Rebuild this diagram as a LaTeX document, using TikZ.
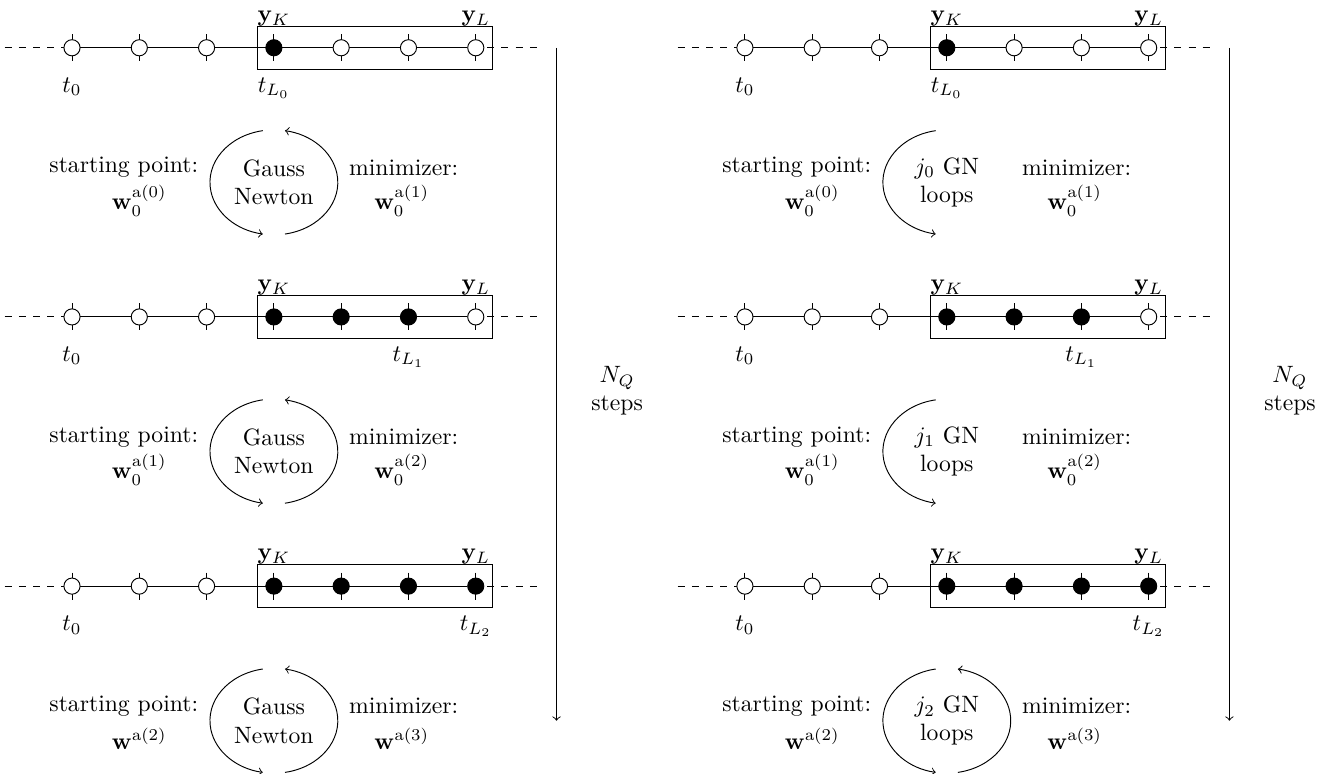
\documentclass[tikz,border=0pt]{standalone}
\usepackage{amsmath}
\usetikzlibrary{calc}

\begin{document}
\begin{tikzpicture}[
  pt/.style={draw, circle, inner sep=0pt, minimum size=2.4mm},
  win/.style={draw, minimum width=35mm, minimum height=6.4mm, inner sep=0pt},
  lbl/.style={anchor=base},
  gn/.style={align=center}]
  \useasboundingbox (-1.07,0.71) rectangle (18.65,-10.79);

  \foreach \p/\ox/\full in {L/0/1, R/10/0}{
    \foreach \r/\last/\wa/\wb in {0/3/{\mathbf{w}_0^{\mathrm{a}(0)}}/{\mathbf{w}_0^{\mathrm{a}(1)}},
                                  1/5/{\mathbf{w}_0^{\mathrm{a}(1)}}/{\mathbf{w}_0^{\mathrm{a}(2)}},
                                  2/6/{\mathbf{w}^{\mathrm{a}(2)}}/{\mathbf{w}^{\mathrm{a}(3)}}}{
      \pgfmathsetmacro\y{-4*\r}
      \pgfmathsetmacro\cy{\y-2.0}
      % time axis with the window
      \coordinate (\p-\r-a) at (\ox-1,\y);
      \coordinate (\p-\r-b) at (\ox+7,\y);
      \draw[dashed] (\p-\r-a) -- (\p-\r-b);
      \node[win] (\p-\r-win) at (\ox+4.5,\y) {};
      \foreach \k in {0,...,6}{
        \pgfmathtruncatemacro\sh{100*(\k>2)*(\k<=\last)}
        \draw (\ox+\k,\y+0.2) -- (\ox+\k,\y-0.2);
        \node[pt, fill=black!\sh] (\p-\r-\k) at (\ox+\k,\y) {};
      }
      \foreach \k [evaluate=\k as \n using int(\k+1)] in {0,...,5}
        \draw (\p-\r-\k) -- (\p-\r-\n);
      \node[lbl] (\p-\r-yk) at (\ox+3,\y+0.39) {$\mathbf{y}_K$};
      \node[lbl] (\p-\r-yl) at (\ox+6,\y+0.39) {$\mathbf{y}_L$};
      \node[lbl] (\p-\r-t0) at (\ox,\y-0.66) {$t_0$};
      \node[lbl] (\p-\r-tl) at (\ox+\last,\y-0.66) {$t_{L_\r}$};

      % inner loop
      \node[gn] (\p-\r-gn) at (\ox+3,\cy) {\ifnum\full=1 Gauss\\Newton\else $j_\r$ GN\\loops\fi};
      \draw[->] ($(\p-\r-gn)+(100:0.95 and 0.78)$) arc[start angle=100, end angle=260, x radius=0.95, y radius=0.78];
      \pgfmathtruncatemacro\both{\full+(\r==2)}
      \ifnum\both>0
        \draw[->] ($(\p-\r-gn)+(-80:0.95 and 0.78)$) arc[start angle=-80, end angle=80, x radius=0.95, y radius=0.78];
      \fi
      \node (\p-\r-sp) at (\ox+0.77,\cy+0.22) {starting point:};
      \node (\p-\r-w0) at (\ox+1,\cy-0.27) {$\wa$};
      \node (\p-\r-mn) at (\ox+4.93,\cy+0.22) {minimizer:};
      \node (\p-\r-w1) at (\ox+4.9,\cy-0.27) {$\wb$};
    }
    \coordinate (\p-top) at (\ox+7.2,0);
    \coordinate (\p-bot) at (\ox+7.2,-10);
    \draw[->] (\p-top) -- (\p-bot);
    \node[align=center] (\p-nq) at (\ox+8.1,-5.1) {$N_Q$\\steps};
  }
\end{tikzpicture}
\end{document}
